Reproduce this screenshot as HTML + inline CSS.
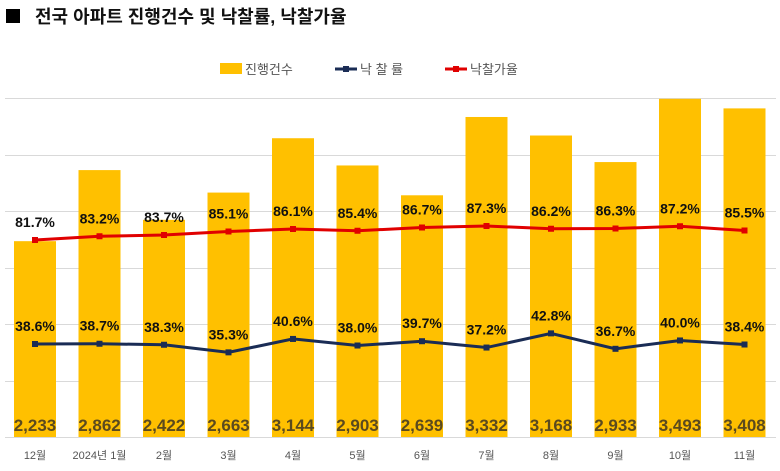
<!DOCTYPE html>
<html><head><meta charset="utf-8"><style>
html,body{margin:0;padding:0;background:#fff;width:780px;height:471px;overflow:hidden}
svg text{font-family:"Liberation Sans","Noto Sans CJK KR",sans-serif}
</style></head><body>
<svg width="780" height="471" viewBox="0 0 780 471" xmlns="http://www.w3.org/2000/svg">
<rect x="6" y="9" width="14" height="14" fill="#000"/>
<text x="35" y="23" font-size="18" font-weight="bold" fill="#111">전국 아파트 진행건수 및 낙찰률, 낙찰가율</text>
<rect x="220" y="63" width="22" height="11" fill="#FFC000"/>
<text x="245" y="74" font-size="13" fill="#555">진행건수</text>
<line x1="335" y1="69" x2="357" y2="69" stroke="#1A2C55" stroke-width="3"/><rect x="343" y="66" width="6" height="6" fill="#1A2C55"/>
<text x="360" y="74" font-size="13" fill="#555">낙 찰 률</text>
<line x1="445" y1="69" x2="467" y2="69" stroke="#E00000" stroke-width="3"/><rect x="453" y="66" width="6" height="6" fill="#E00000"/>
<text x="470" y="74" font-size="13" fill="#555">낙찰가율</text>
<g stroke="#d9d9d9" stroke-width="1">
<line x1="5" y1="98.5" x2="776" y2="98.5"/><line x1="5" y1="155.5" x2="776" y2="155.5"/>
<line x1="5" y1="211.5" x2="776" y2="211.5"/><line x1="5" y1="268.5" x2="776" y2="268.5"/>
<line x1="5" y1="324.5" x2="776" y2="324.5"/><line x1="5" y1="381.5" x2="776" y2="381.5"/>
<line x1="5" y1="437.5" x2="776" y2="437.5"/>
</g>
<g id="c"></g>
</svg>
<script>
var v=[2233,2862,2422,2663,3144,2903,2639,3332,3168,2933,3493,3408];
var r=[38.6,38.7,38.3,35.3,40.6,38.0,39.7,37.2,42.8,36.7,40.0,38.4];
var p=[81.7,83.2,83.7,85.1,86.1,85.4,86.7,87.3,86.2,86.3,87.2,85.5];
var m=["12월","2024년 1월","2월","3월","4월","5월","6월","7월","8월","9월","10월","11월"];
var s="",ns=[],ps=[];
for(var i=0;i<12;i++){var cx=35+64.5*i;var t=437-(v[i]-500)/3000*339;
s+='<rect x="'+(cx-21)+'" y="'+t+'" width="42" height="'+(437-t)+'" fill="#FFC000"/>';
s+='<text x="'+cx+'" y="431" font-size="17" font-weight="bold" fill="#5b4a1e" text-anchor="middle">'+v[i].toLocaleString("en-US")+'</text>';
s+='<text x="'+cx+'" y="459" font-size="11" fill="#555" text-anchor="middle">'+m[i]+'</text>';
var ny=344-(r[i]-38.6)*2.53, py=240-(p[i]-81.7)*2.5;ns.push(cx+","+ny);ps.push(cx+","+py);}
s+='<polyline points="'+ns.join(" ")+'" fill="none" stroke="#1A2C55" stroke-width="3"/>';
s+='<polyline points="'+ps.join(" ")+'" fill="none" stroke="#E00000" stroke-width="3"/>';
for(var i=0;i<12;i++){var cx=35+64.5*i;var ny=344-(r[i]-38.6)*2.53, py=240-(p[i]-81.7)*2.5;
s+='<rect x="'+(cx-3)+'" y="'+(ny-3)+'" width="6" height="6" fill="#1A2C55"/>';
s+='<rect x="'+(cx-3)+'" y="'+(py-3)+'" width="6" height="6" fill="#E00000"/>';
s+='<text x="'+cx+'" y="'+(ny-13)+'" font-size="14" font-weight="bold" fill="#111" text-anchor="middle">'+r[i].toFixed(1)+'%</text>';
s+='<text x="'+cx+'" y="'+(py-13)+'" font-size="14" font-weight="bold" fill="#111" text-anchor="middle">'+p[i].toFixed(1)+'%</text>';}
document.getElementById("c").innerHTML=s;
</script>
</body></html>
